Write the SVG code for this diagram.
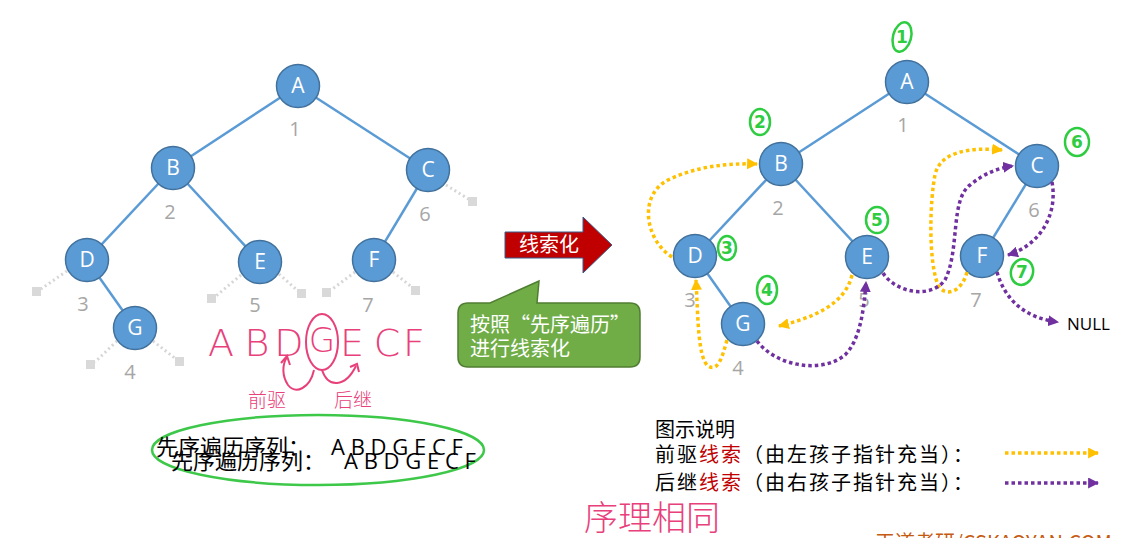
<svg xmlns="http://www.w3.org/2000/svg" width="1139" height="538" viewBox="0 0 1139 538">
<style>
.edge{stroke:#5b9bd5;stroke-width:2.5;fill:none}
.node circle{fill:#5b9bd5;stroke:#41719c;stroke-width:1.5}
.node text{fill:#fff;font-family:"Open Sans","Noto Sans",sans-serif;font-size:21px;text-anchor:middle}
.num{fill:#a6a6a6;font-family:"Open Sans","Noto Sans",sans-serif;font-size:20px;text-anchor:middle}
.nul{stroke:#d6d6d6;stroke-width:3;stroke-dasharray:2 3;fill:none}
.sq{fill:#d9d9d9}
.pre{stroke:#ffc000;stroke-width:3.5;stroke-dasharray:3.5 3;fill:none}
.suc{stroke:#7030a0;stroke-width:3.5;stroke-dasharray:3.5 3;fill:none}
.cjk{font-family:"Noto Sans CJK SC","Noto Sans",sans-serif}
.hand{fill:#e8407a;font-family:"DejaVu Sans","Noto Sans CJK SC",sans-serif;font-weight:200}
.handline{stroke:#e8407a;stroke-width:2;fill:none}
.gc{stroke:#2ecc40;stroke-width:2.5;fill:none}
.gt{fill:#2ecc40;font-family:"DejaVu Sans",sans-serif;font-size:17px;text-anchor:middle;font-weight:bold}
</style>
<defs>
<marker id="ay" viewBox="0 0 10 10" refX="9" refY="5" markerWidth="11" markerHeight="11" markerUnits="userSpaceOnUse" orient="auto"><path d="M0,0 L10,5 L0,10 Z" fill="#ffc000"/></marker>
<marker id="ap" viewBox="0 0 10 10" refX="9" refY="5" markerWidth="11" markerHeight="11" markerUnits="userSpaceOnUse" orient="auto"><path d="M0,0 L10,5 L0,10 Z" fill="#7030a0"/></marker>
</defs>
<rect width="1139" height="538" fill="#fff"/>

<!-- left tree connectors -->
<g id="left-connectors">
<line class="edge" x1="298" y1="86" x2="173" y2="168"/>
<line class="edge" x1="298" y1="86" x2="428" y2="170"/>
<line class="edge" x1="173" y1="168" x2="87" y2="260"/>
<line class="edge" x1="173" y1="168" x2="260" y2="262"/>
<line class="edge" x1="428" y1="170" x2="374" y2="260"/>
<line class="edge" x1="87" y1="260" x2="135" y2="328"/>
<line class="nul" x1="446" y1="185" x2="470" y2="200"/>
<line class="nul" x1="67" y1="271" x2="41" y2="289"/>
<line class="nul" x1="241" y1="275" x2="216" y2="296"/>
<line class="nul" x1="279" y1="274" x2="298" y2="291"/>
<line class="nul" x1="355" y1="272" x2="331" y2="290"/>
<line class="nul" x1="393" y1="272" x2="413" y2="288"/>
<line class="nul" x1="117" y1="341" x2="95" y2="362"/>
<line class="nul" x1="153" y1="341" x2="176" y2="359"/>
<rect class="sq" x="468" y="197" width="9" height="9"/>
<rect class="sq" x="32" y="287" width="9" height="9"/>
<rect class="sq" x="207" y="294" width="9" height="9"/>
<rect class="sq" x="297" y="289" width="9" height="9"/>
<rect class="sq" x="322" y="288" width="9" height="9"/>
<rect class="sq" x="411" y="286" width="9" height="9"/>
<rect class="sq" x="86" y="360" width="9" height="9"/>
<rect class="sq" x="175" y="357" width="9" height="9"/>
</g>
<g id="left-A" class="node"><circle cx="298" cy="86" r="21.5"/><text x="298" y="93">A</text></g>
<g id="left-B" class="node"><circle cx="173" cy="168" r="21.5"/><text x="173" y="175">B</text></g>
<g id="left-C" class="node"><circle cx="428" cy="170" r="21.5"/><text x="428" y="177">C</text></g>
<g id="left-D" class="node"><circle cx="87" cy="260" r="21.5"/><text x="87" y="267">D</text></g>
<g id="left-E" class="node"><circle cx="260" cy="262" r="21.5"/><text x="260" y="269">E</text></g>
<g id="left-F" class="node"><circle cx="374" cy="260" r="21.5"/><text x="374" y="267">F</text></g>
<g id="left-G" class="node"><circle cx="135" cy="328" r="21.5"/><text x="135" y="335">G</text></g>
<g id="left-nums">
<text class="num" x="295" y="136">1</text>
<text class="num" x="170" y="219">2</text>
<text class="num" x="83" y="311">3</text>
<text class="num" x="130" y="379">4</text>
<text class="num" x="255" y="312">5</text>
<text class="num" x="425" y="221">6</text>
<text class="num" x="368" y="312">7</text>
</g>

<!-- red arrow -->
<g id="thread-arrow">
<path d="M505,232 L583,232 L583,217 L612,245 L583,273 L583,258 L505,258 Z" fill="#c00000" stroke="#385d8a" stroke-width="1"/>
<text class="cjk" x="549" y="252" font-size="20" fill="#fff" text-anchor="middle">线索化</text>
</g>
<g id="callout">
<path d="M468,303 L490,303 L539,281 L537,303 L630,303 Q640,303 640,313 L640,357 Q640,367 630,367 L468,367 Q458,367 458,357 L458,313 Q458,303 468,303 Z" fill="#70ad47" stroke="#507e32" stroke-width="1.5"/>
<text class="cjk" x="470" y="332" font-size="20" fill="#fff">按照“先序遍历”</text>
<text class="cjk" x="470" y="356" font-size="20" fill="#fff">进行线索化</text>
</g>

<!-- right tree -->
<g id="right-connectors">
<line class="edge" x1="907" y1="82" x2="781" y2="164"/>
<line class="edge" x1="907" y1="82" x2="1037" y2="166"/>
<line class="edge" x1="781" y1="164" x2="695" y2="256"/>
<line class="edge" x1="781" y1="164" x2="867" y2="257"/>
<line class="edge" x1="1037" y1="166" x2="982" y2="256"/>
<line class="edge" x1="695" y1="256" x2="743" y2="324"/>
</g>
<g id="right-A" class="node"><circle cx="907" cy="82" r="21.5"/><text x="907" y="89">A</text></g>
<g id="right-B" class="node"><circle cx="781" cy="164" r="21.5"/><text x="781" y="171">B</text></g>
<g id="right-C" class="node"><circle cx="1037" cy="166" r="21.5"/><text x="1037" y="173">C</text></g>
<g id="right-D" class="node"><circle cx="695" cy="256" r="21.5"/><text x="695" y="263">D</text></g>
<g id="right-E" class="node"><circle cx="867" cy="257" r="21.5"/><text x="867" y="264">E</text></g>
<g id="right-F" class="node"><circle cx="982" cy="256" r="21.5"/><text x="982" y="263">F</text></g>
<g id="right-G" class="node"><circle cx="743" cy="324" r="21.5"/><text x="743" y="331">G</text></g>
<g id="right-nums">
<text class="num" x="903" y="132">1</text>
<text class="num" x="778" y="215">2</text>
<text class="num" x="690" y="307">3</text>
<text class="num" x="738" y="375">4</text>
<text class="num" x="864" y="307">5</text>
<text class="num" x="1034" y="217">6</text>
<text class="num" x="976" y="307">7</text>
</g>
<g id="null-label"><text x="1067" y="330" font-family="Open Sans,Noto Sans,sans-serif" font-size="17" fill="#000">NULL</text></g>

<g id="threads">
<path class="pre" d="M672,257 C645,240 638,195 668,180 C695,167 725,163 757,164" marker-end="url(#ay)"/>
<path class="pre" d="M727,340 C722,358 718,372 708,366 C698,358 698,318 696,280" marker-end="url(#ay)"/>
<path class="pre" d="M852,275 C845,305 812,318 779,326" marker-end="url(#ay)"/>
<path class="pre" d="M967,272 C962,292 945,298 938,285 C928,260 930,200 935,175 C940,152 968,147 1002,150" marker-end="url(#ay)"/>
<path class="suc" d="M757,341 C775,365 820,375 845,355 C860,340 864,310 866,282" marker-end="url(#ap)"/>
<path class="suc" d="M883,273 C895,292 930,300 945,280 C960,250 950,200 970,185 C985,173 998,168 1013,166" marker-end="url(#ap)"/>
<path class="suc" d="M1052,182 C1058,215 1040,245 1008,255" marker-end="url(#ap)"/>
<path class="suc" d="M997,272 C1005,300 1025,318 1058,322" marker-end="url(#ap)"/>
</g>

<!-- green handwritten order marks -->
<g id="green-marks">
<ellipse class="gc" cx="902" cy="37" rx="9" ry="15" transform="rotate(15 902 37)"/><text class="gt" x="902" y="43">1</text>
<ellipse class="gc" cx="760" cy="122" rx="10" ry="13"/><text class="gt" x="760" y="128">2</text>
<ellipse class="gc" cx="727" cy="248" rx="9" ry="12"/><text class="gt" x="727" y="254">3</text>
<ellipse class="gc" cx="767" cy="290" rx="10" ry="14"/><text class="gt" x="767" y="296">4</text>
<ellipse class="gc" cx="877" cy="220" rx="11" ry="13"/><text class="gt" x="877" y="226">5</text>
<ellipse class="gc" cx="1077" cy="142" rx="12" ry="14"/><text class="gt" x="1077" y="148">6</text>
<ellipse class="gc" cx="1022" cy="272" rx="11" ry="13" transform="rotate(15 1022 272)"/><text class="gt" x="1022" y="278">7</text>
</g>

<!-- pink handwriting -->
<g id="pink-notes">
<text class="hand" x="221" y="356" font-size="38" text-anchor="middle">A</text>
<text class="hand" x="257" y="356" font-size="38" text-anchor="middle">B</text>
<text class="hand" x="289" y="356" font-size="38" text-anchor="middle">D</text>
<text class="hand" x="322" y="352" font-size="34" text-anchor="middle">G</text>
<text class="hand" x="352" y="356" font-size="38" text-anchor="middle">E</text>
<text class="hand" x="387" y="356" font-size="38" text-anchor="middle">C</text>
<text class="hand" x="414" y="356" font-size="38" text-anchor="middle">F</text>
<ellipse class="handline" cx="322" cy="342" rx="16" ry="28"/>
<path class="handline" d="M314,370 C310,388 296,395 288,385 C282,376 282,365 287,357"/>
<path class="handline" d="M281,363 L287,356 L290,365"/>
<path class="handline" d="M322,370 C328,388 345,388 356,366"/>
<path class="handline" d="M350,367 L357,364 L359,372"/>
<text class="hand" x="248" y="407" font-size="19">前驱</text>
<text class="hand" x="334" y="407" font-size="19">后继</text>
<text class="hand" x="584" y="530" font-size="34">序理相同</text>
</g>

<!-- preorder sequence text -->
<g id="sequence">
<ellipse cx="318" cy="450" rx="166" ry="35" fill="none" stroke="#3ec84a" stroke-width="2.5"/>
<text x="156" y="455" font-size="22" fill="#000"><tspan class="cjk">先序遍历序列：</tspan><tspan x="331" font-family="Open Sans,Noto Sans,sans-serif">A B D G E C F</tspan></text>
<text x="171" y="469" font-size="22" fill="#000"><tspan class="cjk">先序遍历序列：</tspan><tspan x="344" font-family="Open Sans,Noto Sans,sans-serif">A B D G E C F</tspan></text>
</g>

<!-- legend -->
<g id="legend">
<text class="cjk" x="655" y="437" font-size="20" fill="#000">图示说明</text>
<text class="cjk" x="655" y="462" font-size="20" fill="#000" textLength="318" lengthAdjust="spacing">前驱<tspan fill="#c00000">线索</tspan>（由左孩子指针充当）：</text>
<text class="cjk" x="655" y="490" font-size="20" fill="#000" textLength="318" lengthAdjust="spacing">后继<tspan fill="#c00000">线索</tspan>（由右孩子指针充当）：</text>
<line class="pre" x1="1005" y1="453" x2="1098" y2="453" marker-end="url(#ay)"/>
<line class="suc" x1="1005" y1="483" x2="1098" y2="483" marker-end="url(#ap)"/>
</g>
<text class="cjk" x="875" y="550" font-size="20" fill="#c55a11">王道考研/CSKAOYAN.COM</text>
</svg>
